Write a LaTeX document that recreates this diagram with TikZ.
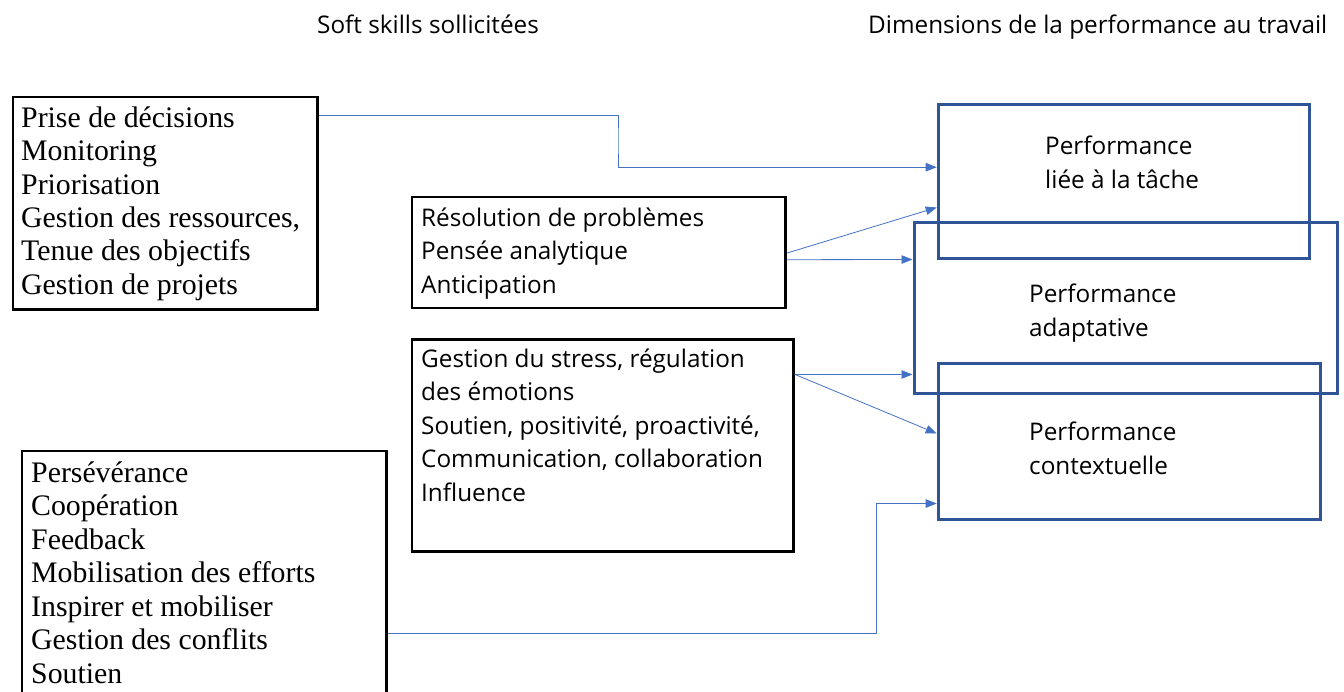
\documentclass[tikz,border=0pt]{standalone}
\usepackage{fontspec}
\setmainfont{Open Sans}
\newfontfamily\serifA{Liberation Serif}
\usetikzlibrary{arrows.meta}
\definecolor{boxblue}{RGB}{47,85,151}
\definecolor{linkblue}{RGB}{68,114,196}
\tikzset{
  blackbox/.style={draw=black, line width=2.8pt, rectangle, inner sep=0pt, anchor=north west},
  bluebox/.style={draw=boxblue, line width=3pt, rectangle, inner sep=0pt, anchor=north west},
  txt/.style={anchor=north west, inner sep=0pt, align=left, text=black, font=\fontsize{24.3}{33.5}\selectfont},
  sertxt/.style={anchor=north west, inner sep=0pt, align=left, text=black, font=\serifA\fontsize{29.8}{33.4}\selectfont},
  conn/.style={draw=linkblue, line width=0.8pt, -{Triangle[length=11pt,width=8.5pt]}},
}
\begin{document}
\begin{tikzpicture}[x=1pt,y=-1pt]
\clip (0,0) rectangle (1344,691);
\fill[white] (0,0) rectangle (1344,691);
% headers
\node[txt] (h1) at (317,7) {\rule{0pt}{26pt}Soft skills sollicitées};
\node[txt] (h2) at (868,7) {\rule{0pt}{26pt}Dimensions de la performance au travail};
% black boxes
\node[blackbox, minimum width=304.5pt, minimum height=212.5pt] (A) at (11.5,95.5) {};
\node[blackbox, minimum width=373.5pt, minimum height=111pt] (B) at (410.5,195.5) {};
\node[blackbox, minimum width=381.5pt, minimum height=212pt] (C) at (410.5,338) {};
\node[blackbox, minimum width=364.8pt, minimum height=250.5pt] (D) at (20.5,449.5) {};
% blue boxes
\node[bluebox, minimum width=371pt, minimum height=154.6pt] (T) at (936.7,102.7) {};
\node[bluebox, minimum width=423.3pt, minimum height=171pt] (Ad) at (912.5,221) {};
\node[bluebox, minimum width=382.6pt, minimum height=155.4pt] (Ct) at (936.7,362.3) {};
% texts
\node[sertxt] (tA) at (21,101) {\rule{0pt}{26pt}Prise de décisions\\Monitoring\\Priorisation\\Gestion des ressources,\\Tenue des objectifs\\Gestion de projets};
\node[txt] (tB) at (421,200) {\rule{0pt}{26pt}Résolution de problèmes\\Pensée analytique\\Anticipation};
\node[txt] (tC) at (421,341) {\rule{0pt}{26pt}Gestion du stress, régulation\\des émotions\\Soutien, positivité, proactivité,\\Communication, collaboration\\Influence};
\node[sertxt, font=\serifA\fontsize{29.8}{33.5}\selectfont] (tD) at (31,456) {\rule{0pt}{26pt}Persévérance\\Coopération\\Feedback\\Mobilisation des efforts\\Inspirer et mobiliser\\Gestion des conflits\\Soutien};
\node[txt, font=\fontsize{24.3}{34}\selectfont] (tT) at (1045,128) {\rule{0pt}{26pt}Performance\\liée à la tâche};
\node[txt, font=\fontsize{24.3}{34}\selectfont] (tAd) at (1029,276) {\rule{0pt}{26pt}Performance\\adaptative};
\node[txt, font=\fontsize{24.3}{34}\selectfont] (tCt) at (1029,414) {\rule{0pt}{26pt}Performance\\contextuelle};
% connectors
\draw[conn] ([yshift=-19.5pt]A.north east) -| (618,140) |- ([yshift=14.3pt]T.west);
\draw[conn] ([yshift=-0.7pt]B.east) -- ([yshift=-26pt]T.west);
\draw[conn] ([yshift=-7.3pt]B.east) -- ([yshift=48.5pt]Ad.west);
\draw[conn] ([yshift=71pt]C.east) -- ([yshift=-66.5pt]Ad.west);
\draw[conn] ([yshift=71pt]C.east) -- ([yshift=8pt]Ct.west);
\draw[conn] ([yshift=-57.25pt]D.east) -| (876.6,560) |- ([yshift=-62pt]Ct.west);
\end{tikzpicture}
\end{document}
